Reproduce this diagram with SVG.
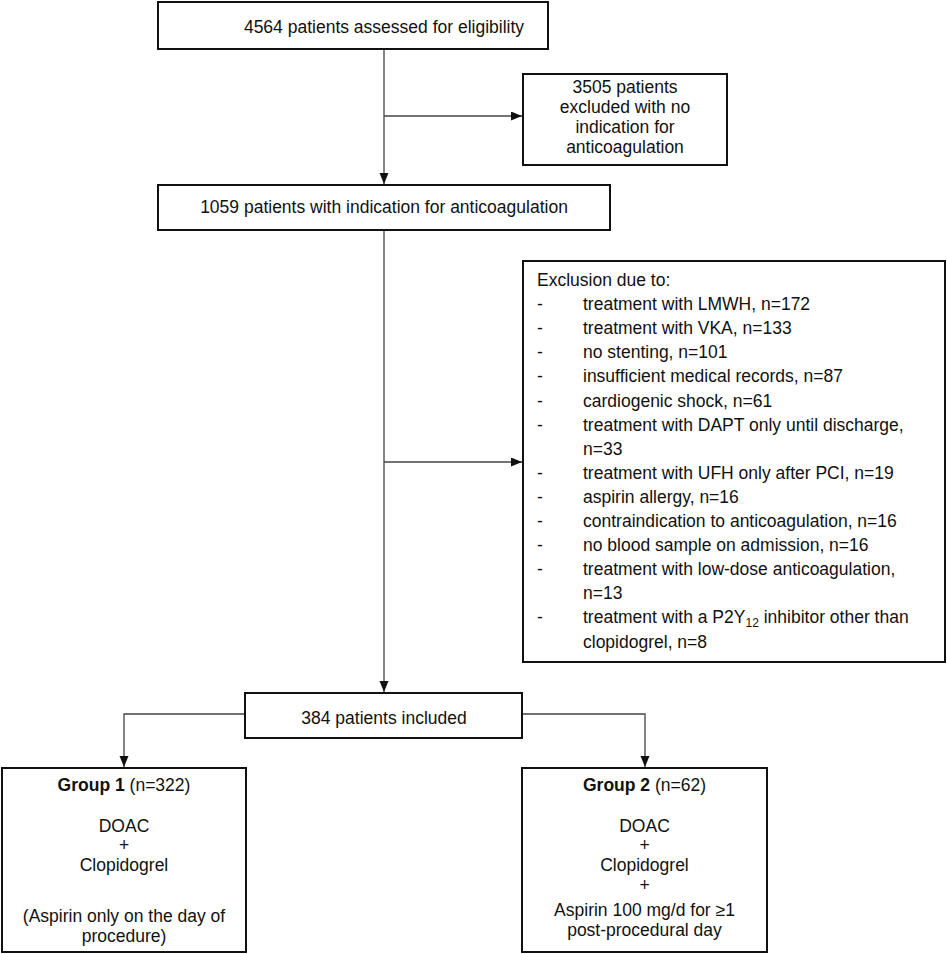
<svg xmlns="http://www.w3.org/2000/svg" width="947" height="954" viewBox="0 0 947 954">
<defs>
<style>
.box{fill:#fff;stroke:#111;stroke-width:2}
.t{font-family:"Liberation Sans",Arial,sans-serif;font-size:17.5px;fill:#111}
.c{text-anchor:middle}
.con{fill:none;stroke:#444;stroke-width:1.3}
</style>
<marker id="ah" markerUnits="userSpaceOnUse" markerWidth="12" markerHeight="10" refX="11" refY="4.5" orient="auto">
<path d="M0,0 L11,4.5 L0,9 Z" fill="#111"/>
</marker>
</defs>
<rect width="947" height="954" fill="#fff"/>
<g id="connectors">
<path class="con" d="M384,49 V184" marker-end="url(#ah)"/>
<path class="con" d="M384,116 H522" marker-end="url(#ah)"/>
<path class="con" d="M384,230 V692" marker-end="url(#ah)"/>
<path class="con" d="M384,462 H522" marker-end="url(#ah)"/>
<path class="con" d="M245,714 H124 V767" marker-end="url(#ah)"/>
<path class="con" d="M522,714 H645 V767" marker-end="url(#ah)"/>
</g>
<g id="assessed">
<rect class="box" x="158" y="2" width="390" height="47"/>
<text class="t c" x="384" y="33">4564 patients assessed for eligibility</text>
</g>
<g id="excluded1">
<rect class="box" x="523" y="74" width="204" height="91"/>
<text class="t c" x="625" y="92.5">3505 patients</text>
<text class="t c" x="625" y="112.8">excluded with no</text>
<text class="t c" x="625" y="133">indication for</text>
<text class="t c" x="625" y="153.2">anticoagulation</text>
</g>
<g id="indicated">
<rect class="box" x="158" y="185" width="452" height="45"/>
<text class="t c" x="384" y="213">1059 patients with indication for anticoagulation</text>
</g>
<g id="excluded2">
<rect class="box" x="523" y="261" width="422" height="401"/>
<text class="t" x="537" y="286">Exclusion due to:</text>
<text class="t" x="537" y="310.1">-</text><text class="t" x="583" y="310.1">treatment with LMWH, n=172</text>
<text class="t" x="537" y="334.2">-</text><text class="t" x="583" y="334.2">treatment with VKA, n=133</text>
<text class="t" x="537" y="358.3">-</text><text class="t" x="583" y="358.3">no stenting, n=101</text>
<text class="t" x="537" y="382.4">-</text><text class="t" x="583" y="382.4">insufficient medical records, n=87</text>
<text class="t" x="537" y="406.5">-</text><text class="t" x="583" y="406.5">cardiogenic shock, n=61</text>
<text class="t" x="537" y="430.6">-</text><text class="t" x="583" y="430.6">treatment with DAPT only until discharge,</text>
<text class="t" x="583" y="454.7">n=33</text>
<text class="t" x="537" y="478.8">-</text><text class="t" x="583" y="478.8">treatment with UFH only after PCI, n=19</text>
<text class="t" x="537" y="502.9">-</text><text class="t" x="583" y="502.9">aspirin allergy, n=16</text>
<text class="t" x="537" y="527">-</text><text class="t" x="583" y="527">contraindication to anticoagulation, n=16</text>
<text class="t" x="537" y="551.1">-</text><text class="t" x="583" y="551.1">no blood sample on admission, n=16</text>
<text class="t" x="537" y="575.2">-</text><text class="t" x="583" y="575.2">treatment with low-dose anticoagulation,</text>
<text class="t" x="583" y="599.3">n=13</text>
<text class="t" x="537" y="623.4">-</text><text class="t" x="583" y="623.4">treatment with a P2Y<tspan font-size="12" dy="4">12</tspan><tspan dy="-4"> inhibitor other than</tspan></text>
<text class="t" x="583" y="647.5">clopidogrel, n=8</text>
</g>
<g id="included">
<rect class="box" x="245" y="693" width="277" height="45"/>
<text class="t c" x="384" y="724">384 patients included</text>
</g>
<g id="group1">
<rect class="box" x="2" y="768" width="244" height="184"/>
<text class="t c" x="124" y="791"><tspan font-weight="bold">Group 1</tspan> (n=322)</text>
<text class="t c" x="124" y="831.5">DOAC</text>
<text class="t c" x="124" y="851">+</text>
<text class="t c" x="124" y="871">Clopidogrel</text>
<text class="t c" x="124" y="922">(Aspirin only on the day of</text>
<text class="t c" x="124" y="942">procedure)</text>
</g>
<g id="group2">
<rect class="box" x="522" y="768" width="245" height="184"/>
<text class="t c" x="644.5" y="791"><tspan font-weight="bold">Group 2</tspan> (n=62)</text>
<text class="t c" x="644.5" y="831.5">DOAC</text>
<text class="t c" x="644.5" y="851">+</text>
<text class="t c" x="644.5" y="871">Clopidogrel</text>
<text class="t c" x="644.5" y="891">+</text>
<text class="t c" x="644.5" y="915.5">Aspirin 100 mg/d for ≥1</text>
<text class="t c" x="644.5" y="935.5">post-procedural day</text>
</g>
</svg>
